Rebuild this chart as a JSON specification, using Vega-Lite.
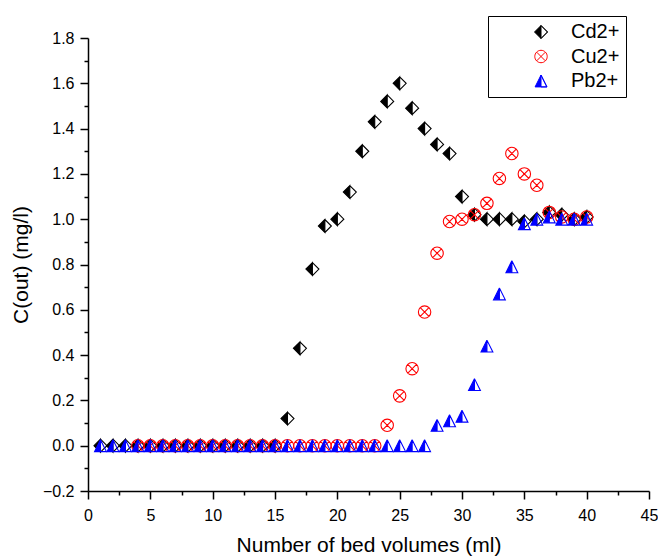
{
  "$schema": "https://vega.github.io/schema/vega-lite/v6.json",
  "width": 561,
  "height": 453,
  "autosize": {"type": "none"},
  "padding": {"left": 88, "top": 38, "right": 9, "bottom": 65},
  "background": "white",
  "config": {
    "view": {"stroke": null},
    "font": "Liberation Sans",
    "axis": {
      "domainColor": "black",
      "domainWidth": 1.5,
      "tickColor": "black",
      "tickWidth": 1.5,
      "grid": false,
      "labelColor": "black",
      "titleColor": "black",
      "labelFont": "Liberation Sans",
      "titleFont": "Liberation Sans",
      "labelFontSize": 16,
      "titleFontSize": 21,
      "titleFontWeight": "normal"
    },
    "legend": {
      "orient": "none",
      "legendX": 400,
      "legendY": -22,
      "strokeColor": "black",
      "strokeWidth": 1,
      "fillColor": "white",
      "padding": 6,
      "columnPadding": 0,
      "labelFont": "Liberation Sans",
      "labelFontSize": 20,
      "labelColor": "black",
      "symbolStrokeWidth": 1,
      "symbolOffset": 37,
      "labelOffset": 20,
      "rowPadding": 4.5
    }
  },
  "data": {
    "values": [
      {"bv": 1, "c": 0, "ion": "Cd2+"}, {"bv": 2, "c": 0, "ion": "Cd2+"}, {"bv": 3, "c": 0, "ion": "Cd2+"}, {"bv": 4, "c": 0, "ion": "Cd2+"}, {"bv": 5, "c": 0, "ion": "Cd2+"},
      {"bv": 6, "c": 0, "ion": "Cd2+"}, {"bv": 7, "c": 0, "ion": "Cd2+"}, {"bv": 8, "c": 0, "ion": "Cd2+"}, {"bv": 9, "c": 0, "ion": "Cd2+"}, {"bv": 10, "c": 0, "ion": "Cd2+"},
      {"bv": 11, "c": 0, "ion": "Cd2+"}, {"bv": 12, "c": 0, "ion": "Cd2+"}, {"bv": 13, "c": 0, "ion": "Cd2+"}, {"bv": 14, "c": 0, "ion": "Cd2+"}, {"bv": 15, "c": 0, "ion": "Cd2+"},
      {"bv": 16, "c": 0.12, "ion": "Cd2+"}, {"bv": 17, "c": 0.43, "ion": "Cd2+"}, {"bv": 18, "c": 0.78, "ion": "Cd2+"}, {"bv": 19, "c": 0.97, "ion": "Cd2+"}, {"bv": 20, "c": 1.0, "ion": "Cd2+"},
      {"bv": 21, "c": 1.12, "ion": "Cd2+"}, {"bv": 22, "c": 1.30, "ion": "Cd2+"}, {"bv": 23, "c": 1.43, "ion": "Cd2+"}, {"bv": 24, "c": 1.52, "ion": "Cd2+"}, {"bv": 25, "c": 1.60, "ion": "Cd2+"},
      {"bv": 26, "c": 1.49, "ion": "Cd2+"}, {"bv": 27, "c": 1.40, "ion": "Cd2+"}, {"bv": 28, "c": 1.33, "ion": "Cd2+"}, {"bv": 29, "c": 1.29, "ion": "Cd2+"}, {"bv": 30, "c": 1.10, "ion": "Cd2+"},
      {"bv": 31, "c": 1.02, "ion": "Cd2+"}, {"bv": 32, "c": 1.00, "ion": "Cd2+"}, {"bv": 33, "c": 1.00, "ion": "Cd2+"}, {"bv": 34, "c": 1.00, "ion": "Cd2+"}, {"bv": 35, "c": 0.99, "ion": "Cd2+"},
      {"bv": 36, "c": 1.00, "ion": "Cd2+"}, {"bv": 37, "c": 1.03, "ion": "Cd2+"}, {"bv": 38, "c": 1.02, "ion": "Cd2+"}, {"bv": 39, "c": 1.00, "ion": "Cd2+"}, {"bv": 40, "c": 1.01, "ion": "Cd2+"},
      {"bv": 4, "c": 0, "ion": "Cu2+"}, {"bv": 5, "c": 0, "ion": "Cu2+"},
      {"bv": 6, "c": 0, "ion": "Cu2+"}, {"bv": 7, "c": 0, "ion": "Cu2+"}, {"bv": 8, "c": 0, "ion": "Cu2+"}, {"bv": 9, "c": 0, "ion": "Cu2+"}, {"bv": 10, "c": 0, "ion": "Cu2+"},
      {"bv": 11, "c": 0, "ion": "Cu2+"}, {"bv": 12, "c": 0, "ion": "Cu2+"}, {"bv": 13, "c": 0, "ion": "Cu2+"}, {"bv": 14, "c": 0, "ion": "Cu2+"}, {"bv": 15, "c": 0, "ion": "Cu2+"},
      {"bv": 16, "c": 0, "ion": "Cu2+"}, {"bv": 17, "c": 0, "ion": "Cu2+"}, {"bv": 18, "c": 0, "ion": "Cu2+"}, {"bv": 19, "c": 0, "ion": "Cu2+"}, {"bv": 20, "c": 0, "ion": "Cu2+"},
      {"bv": 21, "c": 0, "ion": "Cu2+"}, {"bv": 22, "c": 0, "ion": "Cu2+"}, {"bv": 23, "c": 0, "ion": "Cu2+"}, {"bv": 24, "c": 0.09, "ion": "Cu2+"}, {"bv": 25, "c": 0.22, "ion": "Cu2+"},
      {"bv": 26, "c": 0.34, "ion": "Cu2+"}, {"bv": 27, "c": 0.59, "ion": "Cu2+"}, {"bv": 28, "c": 0.85, "ion": "Cu2+"}, {"bv": 29, "c": 0.99, "ion": "Cu2+"}, {"bv": 30, "c": 1.00, "ion": "Cu2+"},
      {"bv": 31, "c": 1.02, "ion": "Cu2+"}, {"bv": 32, "c": 1.07, "ion": "Cu2+"}, {"bv": 33, "c": 1.18, "ion": "Cu2+"}, {"bv": 34, "c": 1.29, "ion": "Cu2+"}, {"bv": 35, "c": 1.20, "ion": "Cu2+"},
      {"bv": 36, "c": 1.15, "ion": "Cu2+"}, {"bv": 37, "c": 1.03, "ion": "Cu2+"}, {"bv": 38, "c": 1.01, "ion": "Cu2+"}, {"bv": 39, "c": 1.00, "ion": "Cu2+"}, {"bv": 40, "c": 1.01, "ion": "Cu2+"},
      {"bv": 1, "c": 0, "ion": "Pb2+"}, {"bv": 2, "c": 0, "ion": "Pb2+"}, {"bv": 3, "c": 0, "ion": "Pb2+"}, {"bv": 4, "c": 0, "ion": "Pb2+"}, {"bv": 5, "c": 0, "ion": "Pb2+"},
      {"bv": 6, "c": 0, "ion": "Pb2+"}, {"bv": 7, "c": 0, "ion": "Pb2+"}, {"bv": 8, "c": 0, "ion": "Pb2+"}, {"bv": 9, "c": 0, "ion": "Pb2+"}, {"bv": 10, "c": 0, "ion": "Pb2+"},
      {"bv": 11, "c": 0, "ion": "Pb2+"}, {"bv": 12, "c": 0, "ion": "Pb2+"}, {"bv": 13, "c": 0, "ion": "Pb2+"}, {"bv": 14, "c": 0, "ion": "Pb2+"}, {"bv": 15, "c": 0, "ion": "Pb2+"},
      {"bv": 16, "c": 0, "ion": "Pb2+"}, {"bv": 17, "c": 0, "ion": "Pb2+"}, {"bv": 18, "c": 0, "ion": "Pb2+"}, {"bv": 19, "c": 0, "ion": "Pb2+"}, {"bv": 20, "c": 0, "ion": "Pb2+"},
      {"bv": 21, "c": 0, "ion": "Pb2+"}, {"bv": 22, "c": 0, "ion": "Pb2+"}, {"bv": 23, "c": 0, "ion": "Pb2+"}, {"bv": 24, "c": 0, "ion": "Pb2+"}, {"bv": 25, "c": 0, "ion": "Pb2+"},
      {"bv": 26, "c": 0, "ion": "Pb2+"}, {"bv": 27, "c": 0, "ion": "Pb2+"}, {"bv": 28, "c": 0.09, "ion": "Pb2+"}, {"bv": 29, "c": 0.11, "ion": "Pb2+"}, {"bv": 30, "c": 0.13, "ion": "Pb2+"},
      {"bv": 31, "c": 0.27, "ion": "Pb2+"}, {"bv": 32, "c": 0.44, "ion": "Pb2+"}, {"bv": 33, "c": 0.67, "ion": "Pb2+"}, {"bv": 34, "c": 0.79, "ion": "Pb2+"}, {"bv": 35, "c": 0.98, "ion": "Pb2+"},
      {"bv": 36, "c": 1.00, "ion": "Pb2+"}, {"bv": 37, "c": 1.01, "ion": "Pb2+"}, {"bv": 38, "c": 1.00, "ion": "Pb2+"}, {"bv": 39, "c": 1.00, "ion": "Pb2+"}, {"bv": 40, "c": 1.00, "ion": "Pb2+"}
    ]
  },
  "resolve": {"axis": {"x": "independent", "y": "independent"}},
  "layer": [
    {
      "mark": {"type": "point", "opacity": 1, "strokeWidth": 1.1},
      "encoding": {
        "x": {
          "field": "bv", "type": "quantitative",
          "scale": {"domain": [0, 45], "nice": false, "zero": false},
          "axis": {"orient": "bottom", "values": [0, 5, 10, 15, 20, 25, 30, 35, 40, 45], "tickSize": 8, "labelPadding": 8, "title": "Number of bed volumes (ml)", "titlePadding": 11, "labelFlush": false}
        },
        "y": {
          "field": "c", "type": "quantitative",
          "scale": {"domain": [-0.2, 1.8], "nice": false, "zero": false},
          "axis": {"orient": "left", "values": [-0.2, 0, 0.2, 0.4, 0.6, 0.8, 1.0, 1.2, 1.4, 1.6, 1.8], "format": ".1f", "tickSize": 8, "labelPadding": 6, "title": "C(out) (mg/l)", "titlePadding": 11, "labelFlush": false}
        },
        "shape": {
          "field": "ion", "type": "nominal", "title": null,
          "scale": {"domain": ["Cd2+", "Cu2+", "Pb2+"], "range": [
            "M0,-1L-1,0L0,1ZM0,-1L1,0L0,1L1,0Z",
            "M1,0A1,1,0,1,1,-1,0A1,1,0,1,1,1,0ZM-0.7,-0.7L0.7,0.7M-0.7,0.7L0.7,-0.7",
            "M0,-1L-1,1L0,1ZM0,-1L1,1L0,1L1,1Z"
          ]}
        },
        "size": {
          "field": "ion", "type": "nominal", "title": null,
          "scale": {"domain": ["Cd2+", "Cu2+", "Pb2+"], "range": [169, 140, 156]}
        },
        "fill": {
          "field": "ion", "type": "nominal", "title": null,
          "scale": {"domain": ["Cd2+", "Cu2+", "Pb2+"], "range": ["black", "transparent", "blue"]}
        },
        "stroke": {
          "field": "ion", "type": "nominal", "title": null,
          "scale": {"domain": ["Cd2+", "Cu2+", "Pb2+"], "range": ["black", "red", "blue"]}
        }
      }
    },
    {
      "mark": {"type": "point", "opacity": 0},
      "encoding": {
        "x": {
          "field": "bv", "type": "quantitative",
          "axis": {"orient": "bottom", "values": [2.5, 7.5, 12.5, 17.5, 22.5, 27.5, 32.5, 37.5, 42.5], "tickSize": 4, "labels": false, "domain": false, "title": null}
        },
        "y": {
          "field": "c", "type": "quantitative",
          "axis": {"orient": "left", "values": [-0.1, 0.1, 0.3, 0.5, 0.7, 0.9, 1.1, 1.3, 1.5, 1.7], "tickSize": 4, "labels": false, "domain": false, "title": null}
        }
      }
    }
  ]
}
